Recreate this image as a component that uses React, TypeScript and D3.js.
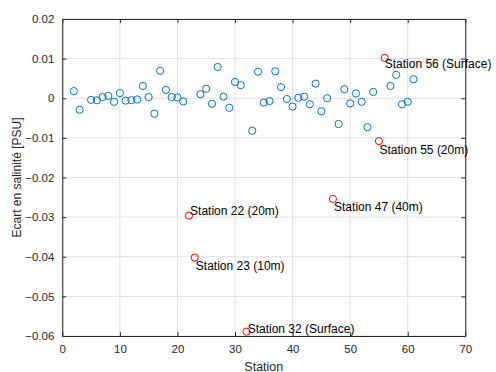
import * as d3 from "d3";
import React, { useEffect, useRef } from "react";

// normal stations (blue)
const stations = [2, 3, 5, 6, 7, 8, 9, 10, 11, 12, 13, 14, 15, 16, 17, 18, 19, 20, 21,
  24, 25, 26, 27, 28, 29, 30, 31, 33, 34, 35, 36, 37, 38, 39, 40, 41, 42, 43, 44, 45, 46,
  48, 49, 50, 51, 52, 53, 54, 57, 58, 59, 60, 61];
const ecart = [0.0018, -0.0029, -0.0004, -0.0005, 0.0003, 0.0006, -0.0009, 0.0013, -0.0006, -0.0005, -0.0003, 0.0031, 0.0003, -0.0039, 0.0069, 0.0021, 0.0003, 0.0002, -0.0008,
  0.001, 0.0024, -0.0014, 0.0079, 0.0004, -0.0024, 0.0041, 0.0033, -0.0082, 0.0067, -0.0011, -0.0007, 0.0068, 0.0028, -0.0002, -0.0021, 0.0001, 0.0004, -0.0015, 0.0037, -0.0033, 0.0,
  -0.0065, 0.0023, -0.0013, 0.0012, -0.0009, -0.0073, 0.0016, 0.0031, 0.0059, -0.0015, -0.0009, 0.0048];

// outliers (red) with their labels
const outStations = [22, 23, 32, 47, 55, 56];
const outEcart = [-0.0296, -0.0402, -0.0589, -0.0254, -0.0108, 0.0102];
const outLabels = ["Station 22 (20m)", "Station 23 (10m)", "Station 32 (Surface)", "Station 47 (40m)", "Station 55 (20m)", "Station 56 (Surface)"];
const labelX = [22.2, 23.2, 32.2, 47.2, 55.1, 56.0];
const labelY = [-0.0285, -0.0423, -0.0583, -0.0274, -0.0129, 0.0086];

const xTicks = [0, 10, 20, 30, 40, 50, 60, 70];
const yTicks = [0.02, 0.01, 0, -0.01, -0.02, -0.03, -0.04, -0.05, -0.06];

const W = 496;
const H = 372;
const FONT = "'Liberation Sans', Arial, sans-serif";

export default function App() {
  const ref = useRef<SVGSVGElement>(null);

  useEffect(() => {
    const svg = d3.select(ref.current);
    svg.selectAll("*").remove();

    const margin = { top: 19, right: 30.7, bottom: 36, left: 62.3 };
    const innerW = W - margin.left - margin.right;
    const innerH = H - margin.top - margin.bottom;

    const x = d3.scaleLinear().domain([0, 70]).range([0, innerW]);
    const y = d3.scaleLinear().domain([-0.06, 0.02]).range([innerH, 0]);

    const g = svg.append("g").attr("transform", `translate(${margin.left},${margin.top})`);

    // grid
    g.append("g")
      .selectAll("line.gx")
      .data(xTicks)
      .enter()
      .append("line")
      .attr("x1", (d) => x(d)).attr("x2", (d) => x(d))
      .attr("y1", 0).attr("y2", innerH)
      .attr("stroke", "#dfdfdf").attr("stroke-width", 1);
    g.append("g")
      .selectAll("line.gy")
      .data(yTicks)
      .enter()
      .append("line")
      .attr("x1", 0).attr("x2", innerW)
      .attr("y1", (d) => y(d)).attr("y2", (d) => y(d))
      .attr("stroke", "#dfdfdf").attr("stroke-width", 1);

    // axes (ticks inside)
    const fmt = (d: d3.NumberValue) => (+d === 0 ? "0" : d3.format(".2f")(+d));
    const xAxis = g.append("g")
      .attr("transform", `translate(0,${innerH})`)
      .call(d3.axisBottom(x).tickValues(xTicks).tickSizeInner(-4).tickSizeOuter(0).tickPadding(9));
    const yAxis = g.append("g")
      .call(d3.axisLeft(y).tickValues(yTicks).tickFormat(fmt).tickSizeInner(-4).tickSizeOuter(0).tickPadding(8));
    const xTop = g.append("g")
      .call(d3.axisTop(x).tickValues(xTicks).tickSizeInner(-4).tickSizeOuter(0).tickFormat(() => ""));
    const yRight = g.append("g")
      .attr("transform", `translate(${innerW},0)`)
      .call(d3.axisRight(y).tickValues(yTicks).tickSizeInner(-4).tickSizeOuter(0).tickFormat(() => ""));

    [xAxis, yAxis, xTop, yRight].forEach((a) => {
      a.select(".domain").attr("stroke", "#262626");
      a.selectAll(".tick line").attr("stroke", "#262626");
      a.selectAll(".tick text")
        .attr("fill", "#262626")
        .style("font-family", FONT)
        .style("font-size", "11.5px");
    });

    // blue points
    g.selectAll("circle.pt")
      .data(stations)
      .enter()
      .append("circle")
      .attr("cx", (d) => x(d))
      .attr("cy", (d, i) => y(ecart[i]))
      .attr("r", 3.6)
      .attr("fill", "none")
      .attr("stroke", "#0072BD")
      .attr("stroke-width", 1);

    // red points
    g.selectAll("circle.out")
      .data(outStations)
      .enter()
      .append("circle")
      .attr("cx", (d) => x(d))
      .attr("cy", (d, i) => y(outEcart[i]))
      .attr("r", 3.6)
      .attr("fill", "none")
      .attr("stroke", "#FF0000")
      .attr("stroke-width", 1);

    // labels
    g.selectAll("text.lab")
      .data(outLabels)
      .enter()
      .append("text")
      .attr("x", (d, i) => x(labelX[i]))
      .attr("y", (d, i) => y(labelY[i]))
      .attr("dy", "0.35em")
      .attr("fill", "#000")
      .style("font-family", FONT)
      .style("font-size", "12px")
      .text((d) => d);

    // axis titles
    svg.append("text")
      .attr("x", margin.left + innerW / 2)
      .attr("y", 370.5)
      .attr("text-anchor", "middle")
      .attr("fill", "#262626")
      .style("font-family", FONT)
      .style("font-size", "12.5px")
      .text("Station");

    svg.append("text")
      .attr("transform", `translate(21,${margin.top + innerH / 2}) rotate(-90)`)
      .attr("text-anchor", "middle")
      .attr("fill", "#262626")
      .style("font-family", FONT)
      .style("font-size", "12px")
      .text("Ecart en salinité [PSU]");
  }, []);

  return (
    <svg
      ref={ref}
      width={W}
      height={H}
      style={{ position: "absolute", left: 0, top: 0, background: "#fff" }}
    />
  );
}
